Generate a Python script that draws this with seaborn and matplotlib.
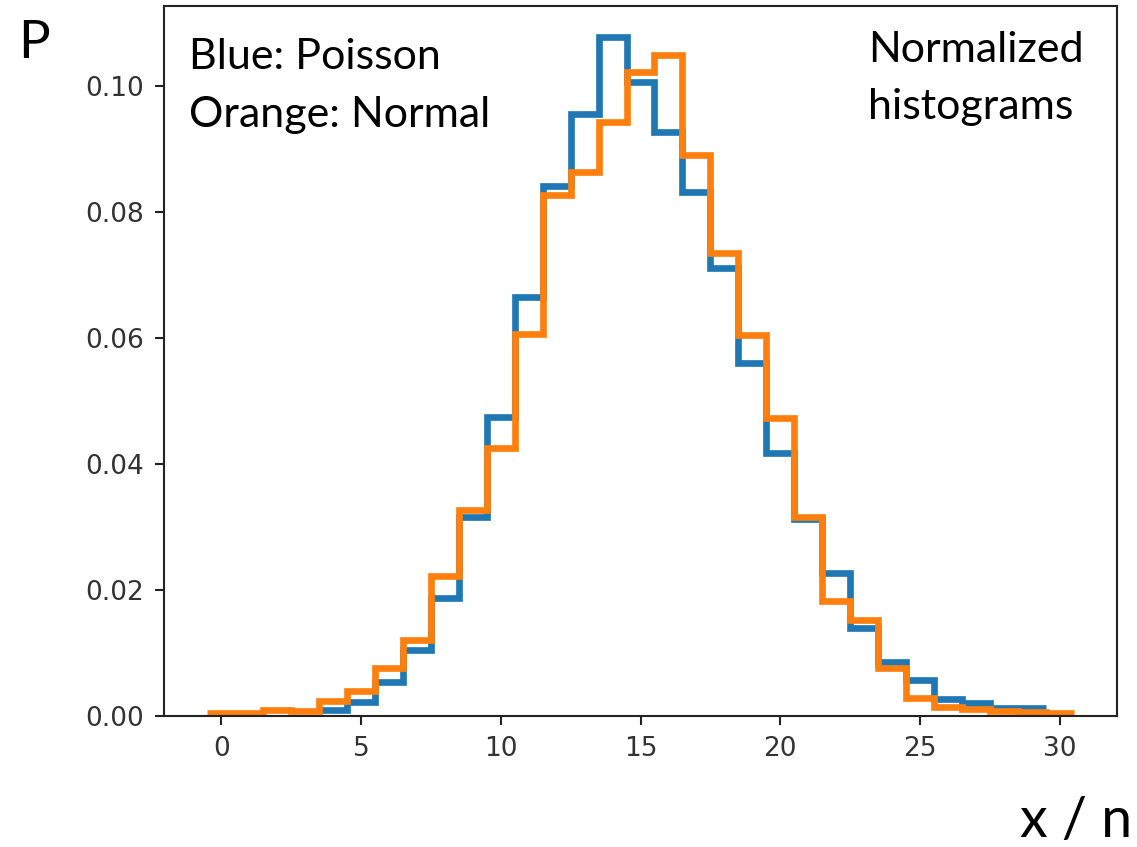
import numpy as np
import pandas as pd
import matplotlib
matplotlib.use("Agg")
import matplotlib.pyplot as plt
import seaborn as sns

# bin centres (integers), bins are width 1
poisson_n = list(range(4, 30))
poisson_p = [0.0009, 0.0022, 0.0054, 0.0105, 0.0188, 0.0316, 0.0475, 0.0665,
             0.0841, 0.0955, 0.1077, 0.1006, 0.0927, 0.0832, 0.0711, 0.0560,
             0.0418, 0.0313, 0.0227, 0.0140, 0.0085, 0.0057, 0.0027, 0.0020,
             0.0012, 0.0013]

normal_x = list(range(0, 31))
normal_p = [0.0005, 0.0005, 0.0010, 0.0008, 0.0024, 0.0039, 0.0076, 0.0121,
            0.0222, 0.0327, 0.0425, 0.0607, 0.0827, 0.0864, 0.0943, 0.1022,
            0.1050, 0.0890, 0.0735, 0.0605, 0.0473, 0.0316, 0.0183, 0.0152,
            0.0076, 0.0029, 0.0014, 0.0011, 0.0008, 0.0006, 0.0005]

poisson = pd.DataFrame({"x": poisson_n, "p": poisson_p})
normal = pd.DataFrame({"x": normal_x, "p": normal_p})

W, H = 1137, 847
fig = plt.figure(figsize=(W / 100, H / 100), dpi=100)
ax = fig.add_axes([164 / W, 131 / H, 953 / W, 710 / H])

lw = 4.8
sns.histplot(data=poisson, x="x", weights="p", discrete=True,
             element="step", fill=False, color="#1f77b4", linewidth=lw,
             solid_joinstyle="miter", solid_capstyle="butt", ax=ax)
sns.histplot(data=normal, x="x", weights="p", discrete=True,
             element="step", fill=False, color="#ff7f0e", linewidth=lw,
             solid_joinstyle="miter", solid_capstyle="butt", ax=ax)

ax.set_xlim(-2.05, 32.05)
ax.set_ylim(0, 0.1127)
ax.set_xticks(range(0, 31, 5))
ax.set_yticks([0.0, 0.02, 0.04, 0.06, 0.08, 0.10])
ax.set_yticklabels(["0.00", "0.02", "0.04", "0.06", "0.08", "0.10"])
ax.set_xlabel("")
ax.set_ylabel("")
for s in ax.spines.values():
    s.set_linewidth(1.5)
    s.set_color("#222222")
ax.tick_params(labelsize=19, length=6.5, width=1.5, pad=8,
               colors="#222222", labelcolor="#333333")

font = "Lato"
fig.text(18 / W, 1 - 43 / H, "P", fontsize=38, family=font, va="center")
fig.text(189 / W, 1 - 57 / H, "Blue: Poisson", fontsize=31, family=font,
         va="center")
fig.text(189 / W, 1 - 115 / H, "Orange: Normal", fontsize=31, family=font,
         va="center")
fig.text(868 / W, 1 - 50 / H, "Normalized", fontsize=31, family=font,
         va="center")
fig.text(868 / W, 1 - 107 / H, "histograms", fontsize=31, family=font,
         va="center")
fig.text(1020 / W, 1 - 821 / H, "x / n", fontsize=40, family=font,
         va="center")

fig.savefig("out.png", dpi=100)
